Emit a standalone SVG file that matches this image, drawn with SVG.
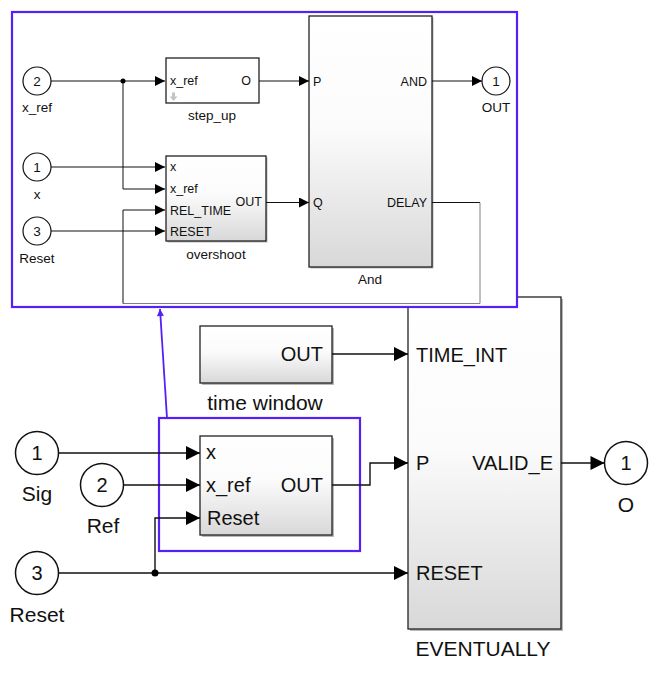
<svg xmlns="http://www.w3.org/2000/svg" width="655" height="680" viewBox="0 0 655 680">
<style>
text{font-family:"Liberation Sans",Arial,sans-serif;fill:#111}
.s{font-size:12.5px}
.sl{font-size:13.5px}
.l{font-size:20px}
.ll{font-size:21px}
.m{text-anchor:middle}
.e{text-anchor:end}
.blk{stroke:#222;stroke-width:1.3}
.shd{fill:#9a9a9a;opacity:.7}
.port{fill:#fff;stroke:#111;stroke-width:1.2}
.portL{fill:#fff;stroke:#111;stroke-width:1.5}
.w{fill:none;stroke:#111;stroke-width:1}
.wL{fill:none;stroke:#111;stroke-width:1.4}
.g{fill:none;stroke:#808080;stroke-width:1}
.hl{fill:#fff;stroke:#5520f5;stroke-width:2.2}
</style>
<defs>
<linearGradient id="grad" x1="0" y1="0" x2="0" y2="1">
<stop offset="0" stop-color="#ffffff"/>
<stop offset="0.45" stop-color="#fbfbfb"/>
<stop offset="1" stop-color="#d8d8d8"/>
</linearGradient>
<marker id="aS" viewBox="0 0 10 10" refX="10" refY="5" markerWidth="10" markerHeight="10" markerUnits="userSpaceOnUse" orient="auto"><path d="M0,0L10,5L0,10z" fill="#000"/></marker>
<marker id="aL" viewBox="0 0 10 10" refX="10" refY="5" markerWidth="15" markerHeight="14" markerUnits="userSpaceOnUse" orient="auto"><path d="M0,0L10,5L0,10z" fill="#000"/></marker>
<marker id="aP" viewBox="0 0 10 10" refX="10" refY="5" markerWidth="8" markerHeight="7" markerUnits="userSpaceOnUse" orient="auto"><path d="M0,0L10,5L0,10z" fill="#5520f5"/></marker>
</defs>
<rect width="655" height="680" fill="#fff"/>

<g id="EVENTUALLY">
<rect class="shd" x="410" y="299" width="153" height="332"/>
<rect class="blk" x="408" y="297" width="153" height="332" fill="url(#grad)"/>
<text class="l" x="416" y="361.5">TIME_INT</text>
<text class="l" x="416" y="470">P</text>
<text class="l e" x="553" y="470">VALID_E</text>
<text class="l" x="416" y="580">RESET</text>
<text class="ll m" x="483" y="656">EVENTUALLY</text>
</g>

<g id="subsystem_frame">
<rect class="hl" x="12" y="12" width="505" height="295"/>
</g>

<g id="in_x_ref">
<circle class="port" cx="37" cy="81" r="14"/>
<text class="sl m" x="37" y="86">2</text>
<text class="sl m" x="37" y="112">x_ref</text>
</g>
<g id="in_x">
<circle class="port" cx="37" cy="167" r="14"/>
<text class="sl m" x="37" y="172">1</text>
<text class="sl m" x="37" y="198.5">x</text>
</g>
<g id="in_Reset_inner">
<circle class="port" cx="37" cy="231" r="14"/>
<text class="sl m" x="37" y="236">3</text>
<text class="sl m" x="37" y="262.5">Reset</text>
</g>
<g id="step_up">
<rect class="blk" x="166" y="58" width="93" height="45" fill="#fff"/>
<text class="s" x="170" y="85">x_ref</text>
<text class="s e" x="251" y="85">O</text>
<path d="M172,92.5h3v4h2.5l-4,4.5l-4,-4.5h2.5z" fill="#c4c4c4"/>
<text class="sl m" x="212" y="120">step_up</text>
</g>
<g id="overshoot">
<rect class="shd" x="167.5" y="157.5" width="100" height="85"/>
<rect class="blk" x="166" y="156" width="100" height="85" fill="url(#grad)"/>
<text class="s" x="170" y="170.5">x</text>
<text class="s" x="170" y="193">x_ref</text>
<text class="s" x="170" y="214.5">REL_TIME</text>
<text class="s" x="170" y="235.5">RESET</text>
<text class="s e" x="262" y="205.5">OUT</text>
<text class="sl m" x="216" y="259">overshoot</text>
</g>
<g id="And">
<rect class="shd" x="310.5" y="17.5" width="123" height="251"/>
<rect class="blk" x="309" y="16" width="123" height="251" fill="url(#grad)"/>
<text class="s" x="313" y="85.5">P</text>
<text class="s e" x="427" y="85.5">AND</text>
<text class="s" x="313" y="206.5">Q</text>
<text class="s e" x="427" y="206.5">DELAY</text>
<text class="sl m" x="370" y="284">And</text>
</g>
<g id="out_OUT">
<circle class="port" cx="496" cy="81" r="14"/>
<text class="sl m" x="496" y="86">1</text>
<text class="sl m" x="496" y="111.5">OUT</text>
</g>

<g id="time_window">
<rect class="shd" x="202" y="328" width="132" height="57"/>
<rect class="blk" x="200" y="326" width="132" height="57" fill="url(#grad)"/>
<text class="l e" x="323" y="360.5">OUT</text>
<text class="ll m" x="265" y="410">time window</text>
</g>

<g id="overshoot_frame">
<rect class="hl" x="159" y="418" width="201" height="133" fill="none"/>
</g>

<g id="overshoot_block">
<rect class="shd" x="202" y="438" width="132" height="99"/>
<rect class="blk" x="200" y="436" width="132" height="99" fill="url(#grad)"/>
<text class="l" x="206" y="458.5">x</text>
<text class="l" x="206" y="491.5">x_ref</text>
<text class="l e" x="323" y="491.5">OUT</text>
<text class="l" x="207" y="524.5">Reset</text>
</g>

<g id="in_Sig">
<circle class="portL" cx="37" cy="453" r="21.5"/>
<text class="l m" x="37" y="460">1</text>
<text class="ll m" x="37" y="501">Sig</text>
</g>
<g id="in_Ref">
<circle class="portL" cx="102" cy="485" r="21.5"/>
<text class="l m" x="102" y="492">2</text>
<text class="ll m" x="103" y="533">Ref</text>
</g>
<g id="in_Reset">
<circle class="portL" cx="37" cy="573" r="21.5"/>
<text class="l m" x="37" y="580">3</text>
<text class="ll m" x="37" y="622">Reset</text>
</g>
<g id="out_O">
<circle class="portL" cx="626" cy="463" r="21.5"/>
<text class="l m" x="626" y="470">1</text>
<text class="ll m" x="626" y="512">O</text>
</g>

<g id="connectors">
<path class="w" d="M51,81H165" marker-end="url(#aS)"/>
<path class="w" d="M123,81V189H165" marker-end="url(#aS)"/>
<circle cx="123" cy="81" r="2.5" fill="#000"/>
<path class="w" d="M259,81H309" marker-end="url(#aS)"/>
<path class="w" d="M432,81H482" marker-end="url(#aS)"/>
<path class="w" d="M51,167H165" marker-end="url(#aS)"/>
<path class="w" d="M51,231H165" marker-end="url(#aS)"/>
<path class="w" d="M266,202.5H309" marker-end="url(#aS)"/>
<path class="w" d="M432,202.5H480"/>
<path class="g" d="M480,202.5V303.5H123"/>
<path class="w" d="M123,303.5V210H165" marker-end="url(#aS)"/>
<path class="wL" d="M332,354H408" marker-end="url(#aL)"/>
<path class="wL" d="M58.5,453H200" marker-end="url(#aL)"/>
<path class="wL" d="M123.5,485H200" marker-end="url(#aL)"/>
<path class="wL" d="M58.5,573H408" marker-end="url(#aL)"/>
<path class="wL" d="M155,573V518H200" marker-end="url(#aL)"/>
<circle cx="155" cy="573" r="3.5" fill="#000"/>
<path class="wL" d="M332,485H370V463H408" marker-end="url(#aL)"/>
<path class="wL" d="M561,463H604.5" marker-end="url(#aL)"/>
<path d="M167,418L160,309" fill="none" stroke="#5520f5" stroke-width="1.8" marker-end="url(#aP)"/>
</g>
</svg>
